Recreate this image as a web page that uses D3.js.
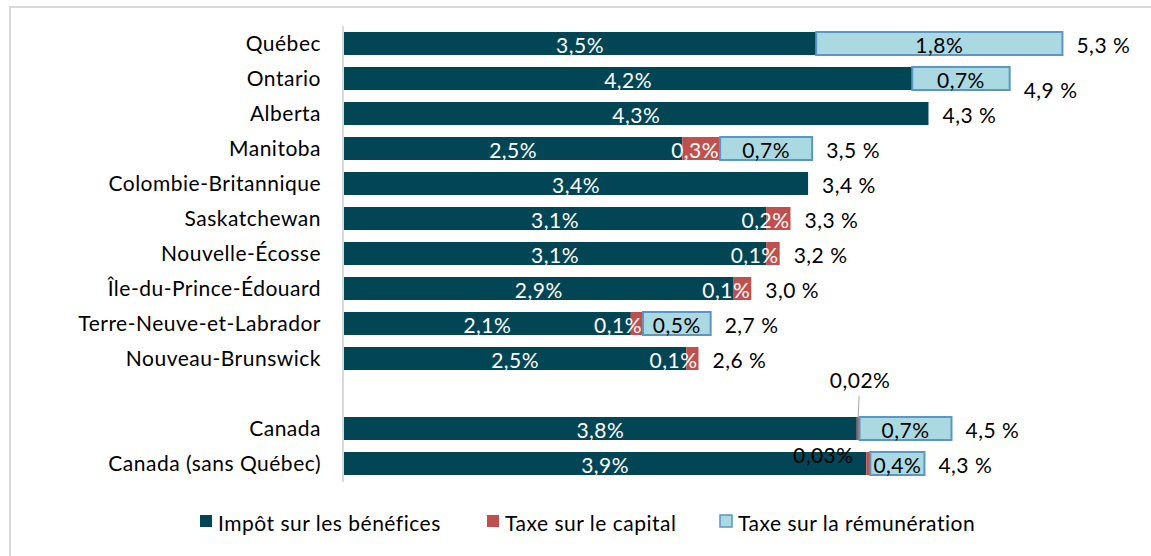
<!DOCTYPE html>
<html>
<head>
<meta charset="utf-8">
<title>Impôts des sociétés</title>
<script src="https://d3js.org/d3.v7.min.js"></script>
<style>
	body { margin: 0; padding: 0; background: #fff; overflow: hidden; }
	text { font-family: Lato, "Open Sans", sans-serif; letter-spacing: 0.5px; }
</style>
</head>
<body>
<script>
	// provinces then the two Canada rows (a blank row sits between them)
	var provinces = ["Québec", "Ontario", "Alberta", "Manitoba", "Colombie-Britannique", "Saskatchewan",
		"Nouvelle-Écosse", "Île-du-Prince-Édouard", "Terre-Neuve-et-Labrador", "Nouveau-Brunswick"];
	var canadaRows = ["Canada", "Canada (sans Québec)"];

	var impot = [3.49, 4.20, 4.32, 2.50, 3.43, 3.12, 3.12, 2.88, 2.12, 2.53, 3.79, 3.86];
	var capital = [0, 0, 0, 0.28, 0, 0.18, 0.10, 0.13, 0.09, 0.09, 0.02, 0.03];
	var remuneration = [1.82, 0.72, 0, 0.68, 0, 0, 0, 0, 0.50, 0, 0.68, 0.40];

	var seriesNames = ["Impôt sur les bénéfices", "Taxe sur le capital", "Taxe sur la rémunération"];
	var colors = ["#024656", "#c0504d", "#abd9e1"];

	var width = 1151, height = 556, fs = 21;
	var svg = d3.select("body").append("svg").attr("width", width).attr("height", height);

	// frame
	svg.append("rect").attr("x", 10).attr("y", 7).attr("width", 1160).attr("height", 570)
		.attr("fill", "none").attr("stroke", "#d9d9d9").attr("stroke-width", 2);

	var cats = provinces.concat(canadaRows);
	var rows = cats.map((c, i) => ({
		cat: c, impot: impot[i], capital: capital[i], remuneration: remuneration[i],
		total: impot[i] + capital[i] + remuneration[i]
	}));

	var domain = provinces.concat(["_gap"], canadaRows);
	var y = d3.scaleBand().domain(domain).range([26, 481]).paddingInner(12 / 35).paddingOuter(6 / 35);
	var x = d3.scaleLinear().domain([0, 5.3]).range([344, 344 + 5.3 * 135.3]);

	var keys = ["impot", "capital", "remuneration"];
	var stacked = d3.stack().keys(keys)(rows);
	var fmt = d3.formatLocale({ decimal: ",", thousands: " ", grouping: [3], currency: ["", "$"] });
	var f1 = fmt.format(".1f"), f2 = fmt.format(".2f");

	var layers = svg.append("g").selectAll("g").data(stacked).enter().append("g")
		.attr("fill", (d, i) => colors[i]);

	layers.selectAll("rect").data(d => d.filter(s => s[1] - s[0] > 0)).enter().append("rect")
		.attr("x", s => x(s[0]))
		.attr("y", s => y(s.data.cat))
		.attr("width", s => x(s[1]) - x(s[0]))
		.attr("height", y.bandwidth())
		.attr("stroke", function () { return this.parentNode.__data__.key === "remuneration" ? "#5b97c4" : "none"; })
		.attr("stroke-width", 2);

	// segment labels
	stacked.forEach(function (layer, li) {
		layer.forEach(function (s) {
			var v = s[1] - s[0];
			if (v <= 0) return;
			var cx = (x(s[0]) + x(s[1])) / 2, cy = y(s.data.cat) + y.bandwidth() / 2;
			var txt = (v < 0.05 ? f2(v) : f1(v)) + "%";
			var fill = li === 2 ? "#000" : "#fff";
			var anchor = "middle";
			if (li === 1) { anchor = "end"; cx = x(s[1]) - 1; }
			if (v < 0.05) {
				fill = "#000"; anchor = "middle";
				cx = (x(s[0]) + x(s[1])) / 2;
				if (s.data.cat === "Canada") {
					svg.append("line").attr("x1", cx + 1).attr("y1", 396).attr("x2", cx).attr("y2", cy - 11)
						.attr("stroke", "#a6a6a6").attr("stroke-width", 1);
					cy = 378; cx = cx + 2;
				} else {
					cx = cx - 45; cy = cy - 10;
				}
			}
			svg.append("text").attr("x", cx).attr("y", cy + 1)
				.attr("text-anchor", anchor).attr("dominant-baseline", "central")
				.attr("font-size", fs).attr("fill", fill).text(txt);
		});
	});

	// totals
	svg.append("g").selectAll("text").data(rows).enter().append("text")
		.attr("x", d => x(d.total) + 14)
		.attr("y", d => y(d.cat) + y.bandwidth() / 2 + 1 + (d.cat === "Ontario" ? 10 : 0))
		.attr("dominant-baseline", "central").attr("font-size", fs).attr("fill", "#000")
		.text(d => f1(d.total) + " %");

	// category axis
	var yAxis = svg.append("g").attr("transform", "translate(343,0)")
		.call(d3.axisLeft(y).tickSize(0).tickPadding(22).tickFormat(d => d === "_gap" ? "" : d));
	yAxis.select(".domain").attr("stroke", "#d9d9d9").attr("stroke-width", 2).attr("d", "M0,26V482");
	yAxis.selectAll("text").attr("font-size", fs).attr("fill", "#000").attr("font-family", "Lato, sans-serif").attr("dy", "0.35em");

	// legend
	var legendX = [200, 487, 720];
	var leg = svg.append("g").selectAll("g").data(seriesNames).enter().append("g")
		.attr("transform", (d, i) => "translate(" + legendX[i] + ",521)");
	leg.append("rect").attr("x", 0).attr("y", -6).attr("width", 12).attr("height", 12)
		.attr("fill", (d, i) => colors[i]).attr("stroke", (d, i) => i === 2 ? "#5b97c4" : "none").attr("stroke-width", 1.5);
	leg.append("text").attr("x", 18).attr("y", 1).attr("dominant-baseline", "central")
		.attr("font-size", fs).attr("fill", "#000").text(d => d);
</script>
</body>
</html>
